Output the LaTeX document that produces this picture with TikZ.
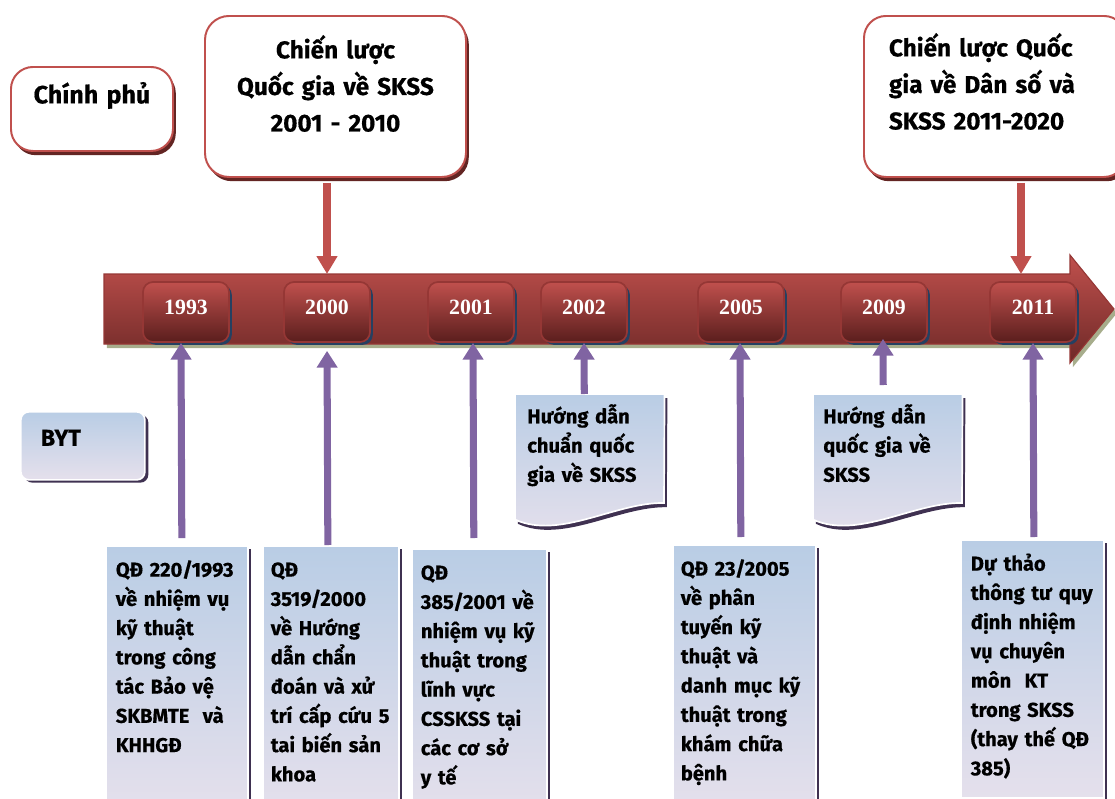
\documentclass[tikz,border=0pt]{standalone}
\usepackage{fontspec}
\setmainfont{Fira Sans}[BoldFeatures={FakeBold=0.6}]
\newfontfamily\yearfont{Liberation Serif}
\usepackage{tikz}
\usetikzlibrary{arrows.meta,positioning,shadows,backgrounds,calc}
\definecolor{stratRed}{HTML}{C0504D}
\definecolor{stratShadow}{HTML}{632523}
\definecolor{yearTop}{HTML}{C0504D}
\definecolor{yearBottom}{HTML}{5A1E1D}
\definecolor{yearEdge}{HTML}{953735}
\definecolor{yearShadow}{HTML}{254061}
\definecolor{barBottom}{HTML}{6E2927}
\definecolor{barShadow}{HTML}{A7AD8C}
\definecolor{bytPurple}{HTML}{8064A2}
\definecolor{noteTop}{HTML}{B9CDE5}
\definecolor{noteBottom}{HTML}{E5E0EC}
\definecolor{noteShadow}{HTML}{3F3151}

\begin{document}
\begin{tikzpicture}[font=\bfseries,
    govbox/.style={draw=stratRed, line width=1.4pt, fill=white, rounded corners=0.55cm,
      inner xsep=0.3cm, inner ysep=0pt, anchor=north west, align=center,
      font=\bfseries\fontsize{17.3}{26}\selectfont,
      general shadow={fill=stratShadow, shadow xshift=2pt, shadow yshift=-3pt}},
    yearbox/.style={rounded corners=0.25cm, draw=yearEdge, line width=1.2pt,
      top color=yearTop, bottom color=yearBottom, minimum width=2.15cm, minimum height=1.5cm,
      text=white, font=\yearfont\bfseries\fontsize{15.5}{18}\selectfont,
      general shadow={fill=yearShadow, shadow xshift=2pt, shadow yshift=-2pt}},
    timebar/.style={draw=yearEdge, line width=0.8pt, top color=stratRed, bottom color=barBottom,
      general shadow={fill=barShadow, shadow xshift=2pt, shadow yshift=-3pt}},
    notebox/.style={draw=white, line width=1.2pt, top color=noteTop, bottom color=noteBottom,
      inner ysep=0pt, anchor=north west, align=left, text height=0.77cm,
      font=\bfseries\fontsize{14.3}{20.8}\selectfont,
      general shadow={fill=noteShadow, shadow xshift=2.5pt, shadow yshift=-2pt}},
    docnote/.style={inner ysep=0pt, anchor=north west, align=left,
      text height=0.725cm, text depth=2.4cm, font=\bfseries\fontsize{14.3}{20.8}\selectfont},
    docshape/.style={draw=white, line width=1.2pt, top color=noteTop, bottom color=noteBottom,
      general shadow={fill=noteShadow, shadow xshift=2pt, shadow yshift=-3pt}},
    uparrow/.style={bytPurple, line width=5pt, -{Triangle[width=0.5cm,length=0.42cm]}},
    downarrow/.style={stratRed, line width=5pt, -{Triangle[width=0.5cm,length=0.45cm]}}]
  \useasboundingbox (0,0) rectangle (27.875,-19.975);

  % government level
  \node[govbox, text width=3.45cm, text height=0.91cm, text depth=1.19cm,
    font=\bfseries\fontsize{17.8}{26}\selectfont] (gov) at (0.25,-1.65) {Chính phủ};
  \node[govbox, rounded corners=0.6cm, text width=5.925cm, text height=1.06cm, text depth=2.965cm] (strat1) at (5.1,-0.375)
    {Chiến lược\\Quốc gia về SKSS\\2001 - 2010};
  \node[govbox, align=left, inner xsep=0.625cm, text width=5.3cm, text height=1.01cm, text depth=3.015cm] (strat2) at (21.575,-0.375)
    {Chiến lược Quốc\\gia về Dân số và\\SKSS 2011-2020};

  % timeline
  \path[timebar] (2.6,-6.85) -- (26.75,-6.85) -- (26.75,-6.375) -- (27.85,-7.725)
    -- (26.75,-9.075) -- (26.75,-8.6) -- (2.6,-8.6) -- cycle;
  \foreach \yr/\xx in {1993/4.65, 2000/8.175, 2001/11.775, 2002/14.6, 2005/18.525, 2009/22.1, 2011/25.825}
    \node[yearbox, text height=0.42cm, text depth=0.31cm] (y\yr) at (\xx,-7.8) {\yr};
  \coordinate (bartop) at (0,-6.85);
  \coordinate (tip2011) at (25.525,-6.85);

  % ministry level
  \node[notebox, rounded corners=0.2cm, inner xsep=0.5cm, text width=2.1cm, text height=0.85cm, text depth=0.85cm,
    font=\bfseries\fontsize{16.5}{18}\selectfont] (byt) at (0.5,-10.275) {BYT};

  \node[docnote, inner xsep=0.3cm, text width=3.125cm] (hd2002) at (12.875,-9.85)
    {Hướng dẫn\\chuẩn quốc\\gia về SKSS};
  \node[docnote, inner xsep=0.25cm, text width=3.225cm] (hd2009) at (20.325,-9.85)
    {Hướng dẫn\\quốc gia về\\SKSS};
  \begin{scope}[on background layer]
    \foreach \d in {hd2002,hd2009}
      \path[docshape] (\d.north west) -- (\d.north east) -- ($(\d.north west)+(3.725,-2.725)$)
        .. controls ($(\d.north west)+(2.525,-2.7)$) and ($(\d.north west)+(1.125,-3.65)$) .. (\d.south west) -- cycle;
  \end{scope}

  \node[notebox, inner xsep=0.25cm, text width=3.05cm, text depth=5.9cm] (qd1993) at (2.625,-13.625)
    {QĐ 220/1993\\về nhiệm vụ\\kỹ thuật\\trong công\\tác Bảo vệ\\SKBMTE~ và\\KHHGĐ};
  \node[notebox, inner xsep=0.2cm, text width=3.0cm, text depth=5.9cm] (qd2000) at (6.55,-13.625)
    {QĐ\\3519/2000\\về Hướng\\dẫn chẩn\\đoán và xử\\trí cấp cứu 5\\tai biến sản\\khoa};
  \node[notebox, inner xsep=0.225cm, text width=2.925cm, text depth=5.9cm] (qd2001) at (10.275,-13.7)
    {QĐ\\385/2001 về\\nhiệm vụ kỹ\\thuật trong\\lĩnh vực\\CSSKSS tại\\các cơ sở\\y tế};
  \node[notebox, inner xsep=0.2cm, text width=3.175cm, text depth=5.9cm] (qd2005) at (16.8,-13.6)
    {QĐ 23/2005\\về phân\\tuyến kỹ\\thuật và\\danh mục kỹ\\thuật trong\\khám chữa\\bệnh};
  \node[notebox, inner xsep=0.25cm, text width=3.075cm, text depth=5.68cm] (qd2011) at (24.0,-13.475)
    {Dự thảo\\thông tư quy\\định nhiệm\\vụ chuyên\\môn~ KT\\trong SKSS\\(thay thế QĐ\\385)};

  % arrows
  \draw[downarrow, shorten <=0.12cm] (strat1.south -| y2000) -- (y2000 |- bartop);
  \draw[downarrow, shorten <=0.12cm] (strat2.south -| tip2011) -- (tip2011);

  \draw[uparrow, shorten <=0.17cm] ([xshift=0.125cm]qd1993.north) -- ([xshift=-0.125cm]y1993.south);
  \draw[uparrow, shorten >=0.2cm] ([xshift=-0.075cm]qd2000.north) -- (y2000.south);
  \draw[uparrow, shorten <=0.25cm] ([xshift=-0.1375cm]qd2001.north) -- ([xshift=0.05cm]y2001.south);
  \draw[uparrow] ([xshift=-0.1375cm]hd2002.north) -- (y2002.south);
  \draw[uparrow, shorten <=0.175cm] ([xshift=-0.0875cm]qd2005.north) -- ([xshift=-0.025cm]y2005.south);
  \draw[uparrow, shorten <=0.225cm, shorten >=-0.1cm] ([xshift=-0.1125cm]hd2009.north) -- ([xshift=-0.025cm]y2009.south);
  \draw[uparrow, shorten <=0.05cm] ([xshift=0.0375cm]qd2011.north) -- (y2011.south);
\end{tikzpicture}
\end{document}
